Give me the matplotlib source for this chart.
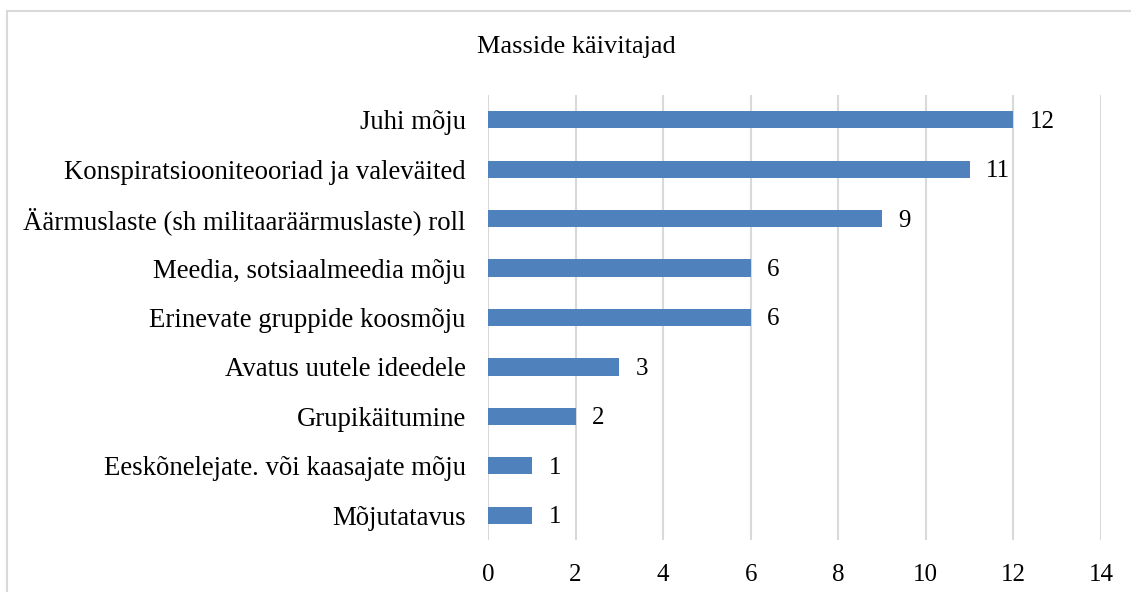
import matplotlib.pyplot as plt
from matplotlib.patches import Rectangle

# data, top to bottom as shown
categories = [
    'Juhi mõju',
    'Konspiratsiooniteooriad ja valeväited',
    'Äärmuslaste (sh militaaräärmuslaste) roll',
    'Meedia, sotsiaalmeedia mõju',
    'Erinevate gruppide koosmõju',
    'Avatus uutele ideedele',
    'Grupikäitumine',
    'Eeskõnelejate. või kaasajate mõju',
    'Mõjutatavus',
]
counts = [12, 11, 9, 6, 6, 3, 2, 1, 1]
x_ticks = [0, 2, 4, 6, 8, 10, 12, 14]

bar_color = '#4F81BD'
grid_color = '#D9D9D9'
serif = ['Liberation Serif', 'DejaVu Serif']

fig = plt.figure(figsize=(11.31, 5.92), dpi=100)
ax = fig.add_axes([488 / 1131, 1 - 540 / 592, 613 / 1131, 445 / 592])

# chart area border (cut off at right and bottom like the source)
fig.patches.append(Rectangle((7 / 1131, -0.1), 1.2, 1 - 11 / 592 + 0.1,
                             transform=fig.transFigure, fill=False,
                             edgecolor=grid_color, linewidth=1.5))

ypos = list(range(len(categories)))[::-1]
bars = ax.barh(ypos, counts, height=0.35, color=bar_color, zorder=3)

for y, v in zip(ypos, counts):
    ax.text(v + 0.38, y - 0.04, str(v), va='center', ha='left', fontsize=18,
            family=serif, zorder=4)

ax.set_xlim(0, 14)
ax.set_ylim(-0.5, len(categories) - 0.5)
ax.set_xticks(x_ticks)
ax.set_yticks(ypos)
ax.set_yticklabels(categories, fontsize=19.3)
ax.grid(axis='x', color=grid_color, linewidth=1.5, zorder=0)
ax.tick_params(axis='both', length=0)
ax.tick_params(axis='x', pad=17, labelsize=18)
ax.tick_params(axis='y', pad=16)
for lbl in ax.get_xticklabels() + ax.get_yticklabels():
    lbl.set_family(serif)
for s in ax.spines.values():
    s.set_visible(False)

fig.text(576 / 1131, 1 - 47 / 592, 'Masside käivitajad', ha='center',
         va='center', fontsize=19, family=serif)

fig.savefig('out.png', dpi=100)
